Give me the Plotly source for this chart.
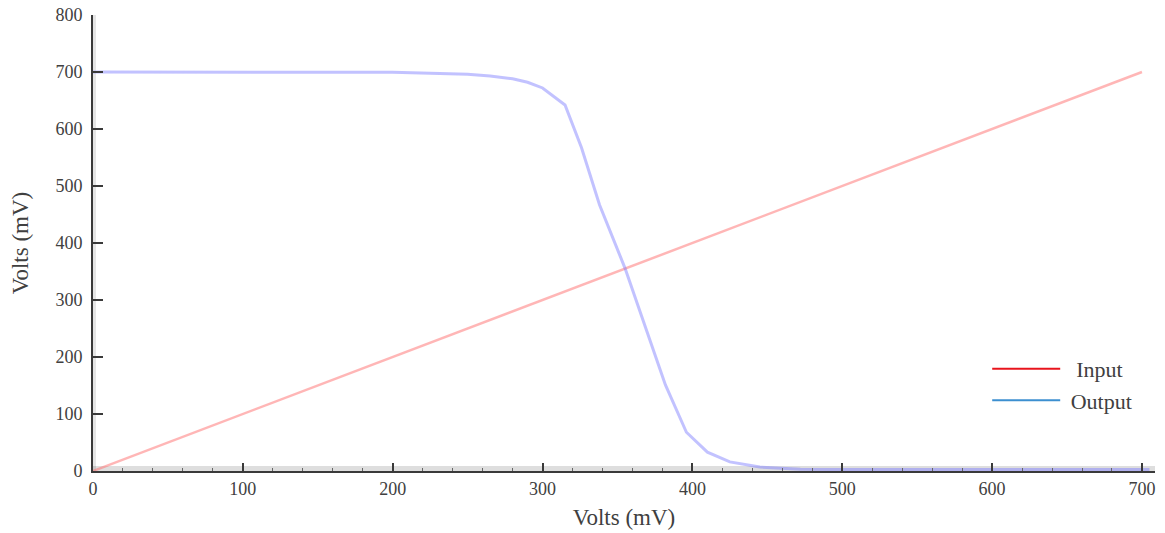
import plotly.graph_objects as go

# Transfer characteristic of an inverter: input sweep and resulting output
vin_mv = [0, 700]
vin_out_mv = [0, 700]

vout_x_mv = [0, 50, 100, 150, 200, 225, 250, 265, 280, 290, 300, 315, 326,
             338, 355, 370, 382, 396, 410, 425, 445, 472, 500, 600, 705]
vout_y_mv = [700, 700, 700, 700, 699.5, 698, 696, 693, 688, 682, 672, 642, 567,
             467, 356, 242, 151, 68, 33, 16, 7, 3, 2.5, 2.5, 2.5]

x_ticks = [0, 100, 200, 300, 400, 500, 600, 700]
y_ticks = [0, 100, 200, 300, 400, 500, 600, 700, 800]

FONT = "Liberation Serif"
TEXT = "#404040"

fig = go.Figure()

fig.add_trace(go.Scatter(
    x=vin_mv, y=vin_out_mv, mode="lines", name="Input",
    line=dict(color="rgba(255,110,110,0.5)", width=2.5), showlegend=False))
fig.add_trace(go.Scatter(
    x=vout_x_mv, y=vout_y_mv, mode="lines", name="Output",
    line=dict(color="rgba(120,120,255,0.45)", width=3), showlegend=False))

# legend keys use solid colours
fig.add_trace(go.Scatter(x=[None], y=[None], mode="lines",
                         name="&nbsp;&nbsp;Input",
                         line=dict(color="#e8141c", width=2)))
fig.add_trace(go.Scatter(x=[None], y=[None], mode="lines",
                         name="&nbsp;Output",
                         line=dict(color="#3c8fd0", width=2)))

# shaded band above the x axis and beside the y axis
fig.add_shape(type="rect", xref="paper", yref="y", x0=0, x1=1,
              ysizemode="pixel", yanchor=0, y0=0, y1=5,
              fillcolor="rgba(0,0,0,0.13)", line_width=0, layer="below")
fig.add_shape(type="rect", xref="x", yref="paper", y0=0, y1=1,
              xsizemode="pixel", xanchor=0, x0=0, x1=3,
              fillcolor="rgba(0,0,0,0.10)", line_width=0, layer="below")

fig.update_layout(
    width=1165, height=533,
    margin=dict(l=93, r=10, t=15, b=62),
    paper_bgcolor="white", plot_bgcolor="white",
    font=dict(family=FONT, size=18, color=TEXT),
    legend=dict(x=0.842, y=0.27, xanchor="left", yanchor="top",
                bgcolor="rgba(0,0,0,0)", itemwidth=68,
                font=dict(family=FONT, size=22, color=TEXT),
                tracegroupgap=0),
    xaxis=dict(
        range=[0, 708.7], tickvals=x_ticks, showgrid=False, zeroline=False,
        showline=True, linecolor="#3a3a3a", linewidth=2, automargin=False,
        ticks="inside", ticklen=8, tickwidth=2, tickcolor="#3a3a3a",
        minor=dict(ticks="inside", ticklen=3, tickwidth=1, tickcolor="#666", dtick=20),
        tickfont=dict(family=FONT, size=18, color=TEXT),
        title=dict(text="Volts (mV)", font=dict(family=FONT, size=23, color=TEXT), standoff=11),
    ),
    yaxis=dict(
        range=[0, 800], tickvals=y_ticks, showgrid=False, zeroline=False,
        showline=True, linecolor="#3a3a3a", linewidth=2, automargin=False,
        ticks="inside", ticklen=10, tickwidth=1.5, tickcolor="#3a3a3a",
        ticklabelstandoff=5,
        tickfont=dict(family=FONT, size=18, color=TEXT),
        title=dict(text="Volts (mV)", font=dict(family=FONT, size=23, color=TEXT), standoff=20),
    ),
)

fig.write_html("out.html")
